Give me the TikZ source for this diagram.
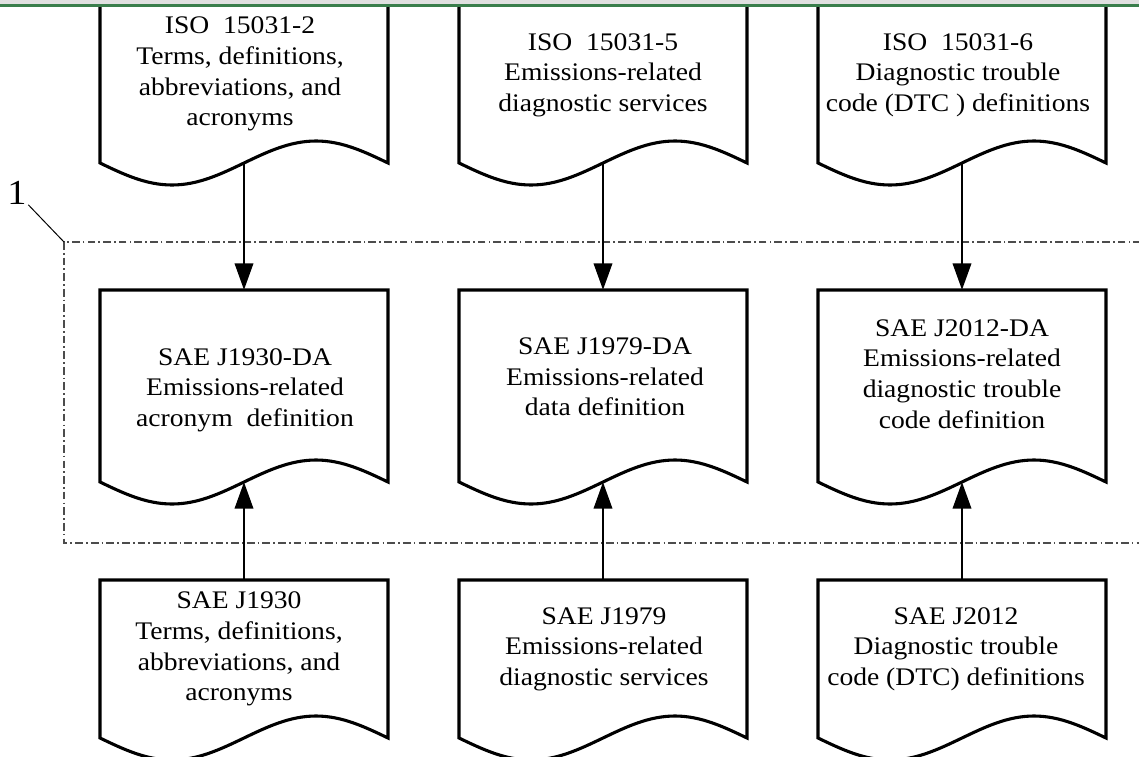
\documentclass[tikz,border=0pt]{standalone}
\usepackage{fontspec}
\setmainfont{Liberation Serif}[FakeStretch=1.09]
\usetikzlibrary{arrows.meta}

\definecolor{balken}{RGB}{58,126,76}
\definecolor{streifen}{RGB}{224,224,224}

\tikzset{
	dok/.style={line width=2.2pt, fill=white},
	txt/.style={align=center, font=\fontsize{18}{21.8}\selectfont, inner sep=0pt},
	pfeil/.style={line width=2.1pt, -{Triangle[length=19pt,width=13pt]}},
	rahmen/.style={gray!60!black, line width=0.8pt, dash pattern=on 5.5pt off 2.2pt on 1.2pt off 2.2pt},
}

% Dokument mit Wellenkante: Name, x links, oben, unten
\newcommand{\dokument}[4]{%
	\draw[dok] (#2,#3) -- (#2,#4) sin ({#2+72},{#4+22}) cos ({#2+144},#4)
		sin ({#2+216},{#4-22}) cos ({#2+288},#4) -- ({#2+288},#3) -- cycle;
	\coordinate (#1-oben) at ({#2+144},#3);
	\coordinate (#1-welle) at ({#2+144},#4);
}

\begin{document}
\begin{tikzpicture}[x=0.025cm, y=-0.025cm]
	\clip (0,0) rectangle (1139,757);
	% Rahmen 1
	\draw[rahmen] (64,242) rectangle (1160,543);
	\node[font=\fontsize{25}{25}\selectfont, inner sep=1pt] (eins) at (17,193) {1};
	\coordinate (ecke) at (64,242);
	\draw[line width=0.7pt] (eins) -- (ecke);
	% Obere Reihe
	\dokument{iso2}{100}{-10}{163}
	\dokument{iso5}{459}{-10}{163}
	\dokument{iso6}{818}{-10}{163}
	\node[txt] (t-iso2) at (240,74) {ISO\ \ 15031-2\\Terms, definitions,\\abbreviations, and\\acronyms};
	\node[txt] (t-iso5) at (603,75) {ISO\ \ 15031-5\\Emissions-related\\diagnostic services};
	\node[txt] (t-iso6) at (958,75) {ISO\ \ 15031-6\\Diagnostic trouble\\code (DTC ) definitions};
	% Mittlere Reihe
	\dokument{j1930da}{100}{290}{482}
	\dokument{j1979da}{459}{290}{482}
	\dokument{j2012da}{818}{290}{482}
	\node[txt] (t-j1930da) at (245,390) {SAE J1930-DA\\Emissions-related\\acronym\ \ definition};
	\node[txt] (t-j1979da) at (605,377) {SAE J1979-DA\\Emissions-related\\data definition};
	\node[txt] (t-j2012da) at (962,374) {SAE J2012-DA\\Emissions-related\\diagnostic trouble\\code definition};
	% Untere Reihe
	\dokument{j1930}{100}{580}{738}
	\dokument{j1979}{459}{580}{738}
	\dokument{j2012}{818}{580}{738}
	\node[txt] (t-j1930) at (239,649) {SAE J1930\\Terms, definitions,\\abbreviations, and\\acronyms};
	\node[txt] (t-j1979) at (604,649) {SAE J1979\\Emissions-related\\diagnostic services};
	\node[txt] (t-j2012) at (956,649) {SAE J2012\\Diagnostic trouble\\code (DTC) definitions};
	% Pfeile
	\draw[pfeil] (iso2-welle) -- (j1930da-oben);
	\draw[pfeil] (iso5-welle) -- (j1979da-oben);
	\draw[pfeil] (iso6-welle) -- (j2012da-oben);
	\draw[pfeil] (j1930-oben) -- (j1930da-welle);
	\draw[pfeil] (j1979-oben) -- (j1979da-welle);
	\draw[pfeil] (j2012-oben) -- (j2012da-welle);
	% Balken oben
	\fill[streifen] (0,0) rectangle (1139,3.5);
	\fill[balken] (0,3.5) rectangle (1139,6.5);
\end{tikzpicture}
\end{document}
